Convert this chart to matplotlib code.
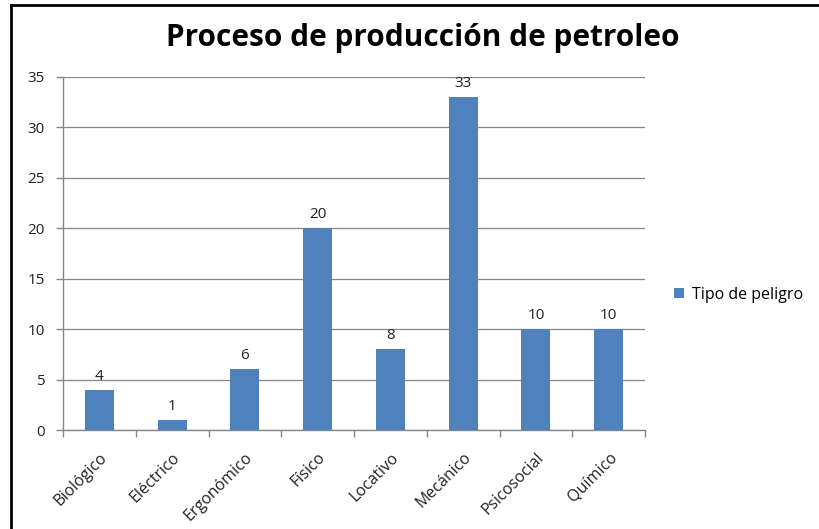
import numpy as np
import matplotlib
matplotlib.use('Agg')
import matplotlib.pyplot as plt
from matplotlib.lines import Line2D
from matplotlib.patches import Patch

plt.rcParams['font.family'] = ['Open Sans', 'DejaVu Sans']

categorias = ['Biológico', 'Eléctrico', 'Ergonómico', 'Físico', 'Locativo',
              'Mecánico', 'Psicosocial', 'Químico']
valores = [4, 1, 6, 20, 8, 33, 10, 10]
serie = 'Tipo de peligro'
titulo = 'Proceso de producción de petroleo'

W, H = 819, 529
fig = plt.figure(figsize=(W/100, H/100), dpi=100)
ax = fig.add_axes([63/W, 1-430/H, (645-63)/W, (430-77)/H])

azul = '#4f81bd'
gris = '#868686'
x = np.arange(len(categorias))
bars = ax.bar(x, valores, width=0.4, color=azul, zorder=3)
for xi, v in zip(x, valores):
    ax.text(xi, v + 0.6, str(v), ha='center', va='bottom', fontsize=11, color='#222222')

ax.set_xlim(-0.5, len(categorias) - 0.5)
ax.set_ylim(0, 35)
ax.set_yticks(range(0, 36, 5))
ax.yaxis.grid(True, color=gris, linewidth=0.9, zorder=0)
ax.set_xticks(x)
ax.set_xticklabels(categorias, rotation=45, ha='right', rotation_mode='anchor',
                   fontsize=11.5, color='#222222')
ax.set_xticks(np.arange(-0.5, len(categorias)), minor=True)
ax.tick_params(axis='x', which='major', length=0, pad=14)
ax.tick_params(axis='x', which='minor', length=5, color=gris, width=1)
ax.tick_params(axis='y', length=5, color=gris, width=1, labelsize=11, pad=8,
               labelcolor='#222222')
for s in ['top', 'right']:
    ax.spines[s].set_visible(False)
for s in ['left', 'bottom']:
    ax.spines[s].set_color(gris)
    ax.spines[s].set_linewidth(1)

fig.text(423/W, 1-38/H, titulo, ha='center', va='center', fontsize=21.4, fontweight='bold')

handle = Patch(facecolor=azul, edgecolor='none')
fig.legend([handle], [serie], loc='center left', bbox_to_anchor=(660/W, 1-295/H),
           frameon=False, fontsize=11.5, handlelength=0.6, handleheight=0.6, handletextpad=0.5)

# marco
fig.add_artist(Line2D([11/W, 11/W], [0, 1-5/H], color='black', linewidth=2))
fig.add_artist(Line2D([11/W, 1], [1-5/H, 1-5/H], color='black', linewidth=2))

fig.savefig('out.png', dpi=100)
